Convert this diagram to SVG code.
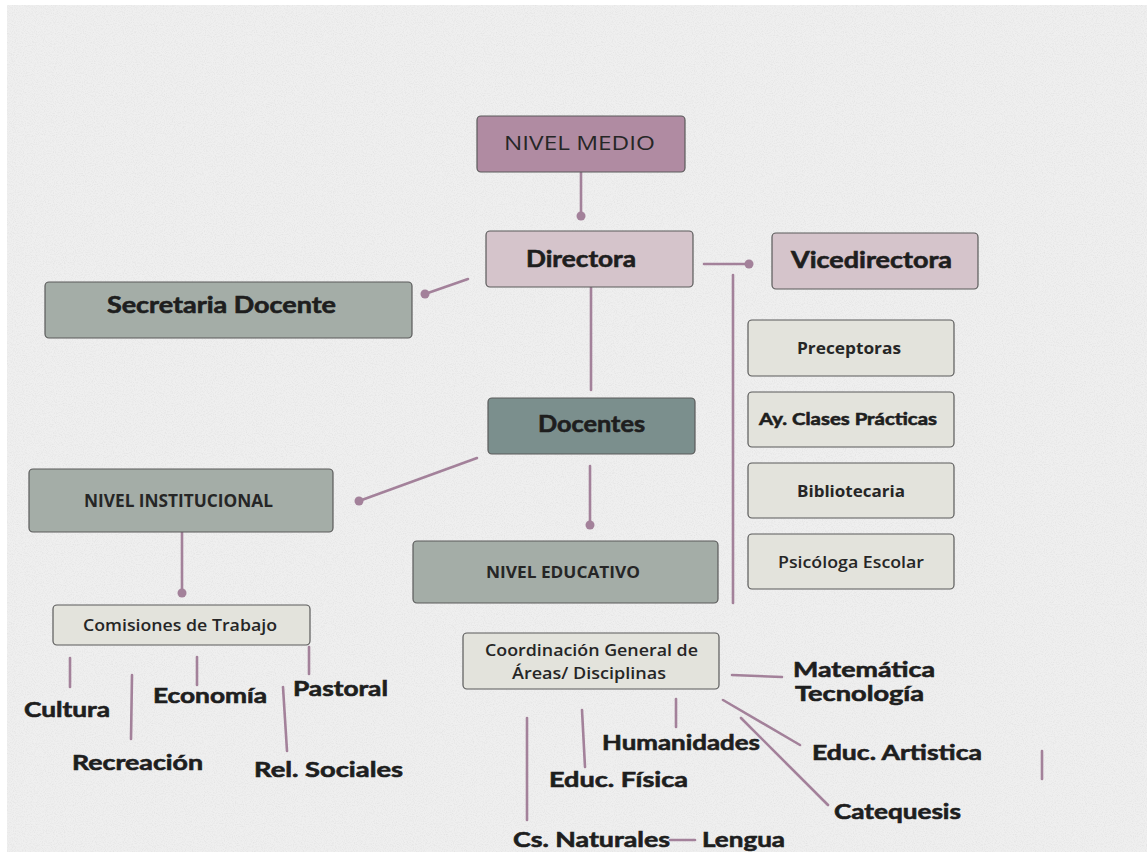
<svg xmlns="http://www.w3.org/2000/svg" width="1147" height="852" viewBox="0 0 1147 852">
<defs>
<style>
.box{stroke:#5a5a5a;stroke-width:1.2}
.mauve{fill:#b08ba2}
.pink{fill:#d5c4cb}
.sage{fill:#a4ada7}
.teal{fill:#7b8f8d}
.light{fill:#e3e3dc}
.ln{stroke:#a3819a;stroke-width:2.6;fill:none;stroke-linecap:round}
.dot{fill:#a3819a}
.geo{font-family:Lato,"Liberation Sans",sans-serif;font-weight:700;fill:#1e1e1e;stroke:#1e1e1e;stroke-width:0.6}
.os{font-family:"Open Sans","Liberation Sans",sans-serif;fill:#262626}
</style>
<filter id="speck" x="0" y="0" width="100%" height="100%">
<feTurbulence type="fractalNoise" baseFrequency="0.9" numOctaves="2" seed="3" result="n"/>
<feColorMatrix type="matrix" values="0 0 0 0 0.55  0 0 0 0 0.55  0 0 0 0 0.55  0 0 0 -2.2 1.25" in="n"/>
</filter>
</defs>
<rect x="0" y="0" width="1147" height="852" fill="#ffffff"/>
<rect x="7" y="5" width="1140" height="847" fill="#efefef"/>
<rect x="7" y="5" width="1140" height="847" filter="url(#speck)" opacity="0.25"/>

<g id="connectors">
<line class="ln" x1="581" y1="172" x2="581" y2="216"/>
<circle class="dot" cx="581" cy="216" r="4.5"/>
<line class="ln" x1="704" y1="264" x2="749" y2="264"/>
<circle class="dot" cx="749" cy="264" r="4.5"/>
<line class="ln" x1="733" y1="275" x2="733" y2="603"/>
<line class="ln" x1="468" y1="279" x2="425" y2="294"/>
<circle class="dot" cx="425" cy="294" r="4.5"/>
<line class="ln" x1="591" y1="287" x2="591" y2="390"/>
<line class="ln" x1="590" y1="466" x2="590" y2="525"/>
<circle class="dot" cx="590" cy="525" r="4.5"/>
<line class="ln" x1="477" y1="458" x2="359" y2="501"/>
<circle class="dot" cx="359" cy="501" r="4.5"/>
<line class="ln" x1="182" y1="532" x2="182" y2="593"/>
<circle class="dot" cx="182" cy="593" r="4.5"/>
<line class="ln" x1="70" y1="658" x2="70" y2="687"/>
<line class="ln" x1="132" y1="675" x2="131" y2="739"/>
<line class="ln" x1="197" y1="657" x2="197" y2="685"/>
<line class="ln" x1="309" y1="647" x2="309" y2="674"/>
<line class="ln" x1="283" y1="687" x2="287" y2="751"/>
<line class="ln" x1="732" y1="675" x2="782" y2="677"/>
<line class="ln" x1="676" y1="699" x2="676" y2="727"/>
<line class="ln" x1="582" y1="710" x2="585" y2="767"/>
<line class="ln" x1="527" y1="718" x2="527" y2="820"/>
<line class="ln" x1="670" y1="840" x2="695" y2="840"/>
<line class="ln" x1="723" y1="700" x2="800" y2="745"/>
<line class="ln" x1="741" y1="718" x2="828" y2="805"/>
<line class="ln" x1="1042" y1="751" x2="1042" y2="779"/>
</g>

<g id="nivel-medio">
<rect class="box mauve" x="477" y="116" width="208" height="56" rx="4"/>
<text class="os" x="504" y="150" font-size="20.5" textLength="151" lengthAdjust="spacingAndGlyphs">NIVEL MEDIO</text>
</g>
<g id="directora">
<rect class="box pink" x="486" y="231" width="207" height="56" rx="4"/>
<text class="geo" x="526" y="267" font-size="22" textLength="110" lengthAdjust="spacingAndGlyphs">Directora</text>
</g>
<g id="vicedirectora">
<rect class="box pink" x="772" y="233" width="206" height="56" rx="4"/>
<text class="geo" x="791" y="268" font-size="22" textLength="161" lengthAdjust="spacingAndGlyphs">Vicedirectora</text>
</g>
<g id="secretaria-docente">
<rect class="box sage" x="45" y="282" width="367" height="56" rx="4"/>
<text class="geo" x="107" y="313" font-size="22" textLength="229" lengthAdjust="spacingAndGlyphs">Secretaria Docente</text>
</g>
<g id="docentes">
<rect class="box teal" x="488" y="398" width="207" height="56" rx="4"/>
<text class="geo" x="538" y="432" font-size="22" textLength="107" lengthAdjust="spacingAndGlyphs">Docentes</text>
</g>
<g id="nivel-institucional">
<rect class="box sage" x="29" y="469" width="304" height="63" rx="4"/>
<text class="os" x="84" y="507" font-size="17" font-weight="700" textLength="189" lengthAdjust="spacingAndGlyphs">NIVEL INSTITUCIONAL</text>
</g>
<g id="nivel-educativo">
<rect class="box sage" x="413" y="541" width="305" height="62" rx="4"/>
<text class="os" x="486" y="578" font-size="16.5" font-weight="700" textLength="154" lengthAdjust="spacingAndGlyphs">NIVEL EDUCATIVO</text>
</g>
<g id="preceptoras">
<rect class="box light" x="748" y="320" width="206" height="56" rx="4"/>
<text class="os" x="797" y="354" font-size="16" font-weight="700" textLength="104" lengthAdjust="spacingAndGlyphs">Preceptoras</text>
</g>
<g id="ay-clases">
<rect class="box light" x="748" y="392" width="206" height="55" rx="4"/>
<text class="geo" x="759" y="425" font-size="17" textLength="178" lengthAdjust="spacingAndGlyphs" stroke-width="0.4">Ay. Clases Prácticas</text>
</g>
<g id="bibliotecaria">
<rect class="box light" x="748" y="463" width="206" height="55" rx="4"/>
<text class="os" x="797" y="497" font-size="16" font-weight="700" textLength="108" lengthAdjust="spacingAndGlyphs">Bibliotecaria</text>
</g>
<g id="psicologa">
<rect class="box light" x="748" y="534" width="206" height="55" rx="4"/>
<text class="os" x="778" y="568" font-size="16" font-weight="600" textLength="146" lengthAdjust="spacingAndGlyphs">Psicóloga Escolar</text>
</g>
<g id="comisiones">
<rect class="box light" x="53" y="605" width="257" height="40" rx="4"/>
<text class="os" x="83" y="631" font-size="16" font-weight="600" textLength="194" lengthAdjust="spacingAndGlyphs">Comisiones de Trabajo</text>
</g>
<g id="coordinacion">
<rect class="box light" x="463" y="633" width="256" height="56" rx="4"/>
<text class="os" x="485" y="656" font-size="15.5" font-weight="600" textLength="213" lengthAdjust="spacingAndGlyphs">Coordinación General de</text>
<text class="os" x="512" y="679" font-size="15.5" font-weight="600" textLength="154" lengthAdjust="spacingAndGlyphs">Áreas/ Disciplinas</text>
</g>

<g id="cultura"><text class="geo" x="24" y="717" font-size="21" textLength="86" lengthAdjust="spacingAndGlyphs">Cultura</text></g>
<g id="recreacion"><text class="geo" x="72" y="770" font-size="21" textLength="131" lengthAdjust="spacingAndGlyphs">Recreación</text></g>
<g id="economia"><text class="geo" x="153" y="703" font-size="21" textLength="114" lengthAdjust="spacingAndGlyphs">Economía</text></g>
<g id="pastoral"><text class="geo" x="293" y="696" font-size="21" textLength="95" lengthAdjust="spacingAndGlyphs">Pastoral</text></g>
<g id="rel-sociales"><text class="geo" x="254" y="777" font-size="21" textLength="149" lengthAdjust="spacingAndGlyphs">Rel. Sociales</text></g>
<g id="matematica">
<text class="geo" x="793" y="677" font-size="21" textLength="142" lengthAdjust="spacingAndGlyphs">Matemática</text>
<text class="geo" x="795" y="701" font-size="21" textLength="129" lengthAdjust="spacingAndGlyphs">Tecnología</text>
</g>
<g id="humanidades"><text class="geo" x="602" y="750" font-size="21" textLength="158" lengthAdjust="spacingAndGlyphs">Humanidades</text></g>
<g id="educ-fisica"><text class="geo" x="549" y="787" font-size="21" textLength="139" lengthAdjust="spacingAndGlyphs">Educ. Física</text></g>
<g id="educ-artistica"><text class="geo" x="812" y="760" font-size="21" textLength="170" lengthAdjust="spacingAndGlyphs">Educ. Artistica</text></g>
<g id="catequesis"><text class="geo" x="834" y="819" font-size="21" textLength="127" lengthAdjust="spacingAndGlyphs">Catequesis</text></g>
<g id="cs-naturales"><text class="geo" x="513" y="847" font-size="21" textLength="157" lengthAdjust="spacingAndGlyphs">Cs. Naturales</text></g>
<g id="lengua"><text class="geo" x="702" y="847" font-size="21" textLength="83" lengthAdjust="spacingAndGlyphs">Lengua</text></g>
</svg>
